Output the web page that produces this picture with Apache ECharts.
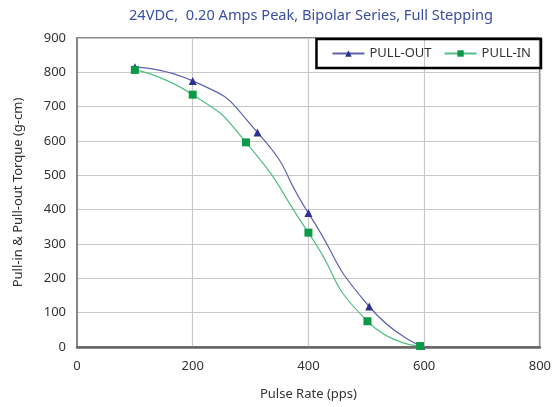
<!DOCTYPE html>
<html>
<head>
<meta charset="utf-8">
<script src="https://cdn.jsdelivr.net/npm/echarts@6/dist/echarts.min.js"></script>
<style>html,body{margin:0;padding:0;background:#fff}#c{width:554px;height:407px}</style>
</head>
<body>
<div id="c"></div>
<script>
const titleText = '24VDC,  0.20 Amps Peak, Bipolar Series, Full Stepping';
const pullOutX = [100, 200, 312, 400, 505, 595];
const pullOutY = [815, 775, 625, 390, 118, 3];
const pullInX = [100, 200, 292, 400, 502, 593];
const pullInY = [807, 735, 596, 333, 75, 3];
const xTicks = [0, 200, 400, 600, 800];
const yTicks = [0, 100, 200, 300, 400, 500, 600, 700, 800, 900];

const font = 'Noto Sans';
const chart = echarts.init(document.getElementById('c'));
chart.setOption({
  animation: false,
  title: {
    text: titleText, left: 124, top: 3,
    textStyle: {fontFamily: font, fontSize: 14.6, fontWeight: 'normal', color: '#3b4ea3'}
  },
  legend: {
    orient: 'horizontal',
    right: 13, top: 39,
    itemWidth: 32, itemHeight: 8, itemGap: 12,
    padding: [8, 10, 8, 15],
    borderColor: '#000', borderWidth: 2.5,
    textStyle: {fontFamily: font, fontSize: 13, color: '#333'},
    data: ['PULL-OUT', 'PULL-IN']
  },
  grid: {left: 77, right: 13, top: 38, bottom: 60, show: true, borderColor: '#888', borderWidth: 2},
  xAxis: {
    type: 'value', min: 0, max: 800, interval: 200,
    name: 'Pulse Rate (pps)', nameLocation: 'middle', nameGap: 41,
    nameTextStyle: {fontFamily: font, fontSize: 13, color: '#333'},
    axisLine: {show: true, lineStyle: {color: '#666', width: 2.5}},
    axisTick: {show: false},
    axisLabel: {fontFamily: font, fontSize: 13, color: '#333', margin: 13},
    splitLine: {lineStyle: {color: '#c8c8c8', width: 1.2}}
  },
  yAxis: {
    type: 'value', min: 0, max: 900, interval: 100,
    name: 'Pull-in & Pull-out Torque (g-cm)', nameLocation: 'middle', nameGap: 52,
    nameTextStyle: {fontFamily: font, fontSize: 13, color: '#333'},
    axisLine: {show: true, lineStyle: {color: '#888', width: 2}},
    axisTick: {show: false},
    axisLabel: {fontFamily: font, fontSize: 13, color: '#333', margin: 11},
    splitLine: {lineStyle: {color: '#c8c8c8', width: 1.2}}
  },
  series: [
    {
      name: 'PULL-OUT', type: 'line', smooth: 0.6,
      data: pullOutX.map((x, i) => [x, pullOutY[i]]),
      symbol: 'triangle', symbolSize: 8,
      itemStyle: {color: '#2b3190'},
      lineStyle: {color: '#5d62b0', width: 1.2}
    },
    {
      name: 'PULL-IN', type: 'line', smooth: 0.6,
      data: pullInX.map((x, i) => [x, pullInY[i]]),
      symbol: 'rect', symbolSize: 8,
      itemStyle: {color: '#0c9a48'},
      lineStyle: {color: '#4fbf85', width: 1.2}
    }
  ]
});
</script>
</body>
</html>
